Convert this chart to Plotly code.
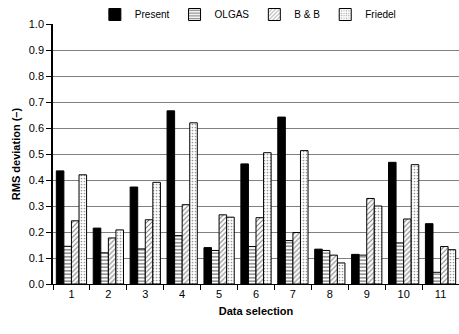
import plotly.graph_objects as go

categories = ["1", "2", "3", "4", "5", "6", "7", "8", "9", "10", "11"]
present = [0.435, 0.215, 0.373, 0.666, 0.140, 0.462, 0.642, 0.134, 0.114, 0.468, 0.232]
olgas = [0.145, 0.120, 0.135, 0.186, 0.129, 0.144, 0.167, 0.129, 0.111, 0.158, 0.045]
bb = [0.243, 0.177, 0.247, 0.305, 0.266, 0.255, 0.198, 0.111, 0.329, 0.250, 0.144]
friedel = [0.420, 0.208, 0.391, 0.620, 0.257, 0.505, 0.513, 0.081, 0.300, 0.459, 0.132]

font = "Liberation Sans, Arial, sans-serif"

fig = go.Figure()
fig.add_trace(go.Bar(x=categories, y=present, name="Present",
                     marker=dict(color="black", line=dict(color="black", width=1))))
fig.add_trace(go.Bar(x=categories, y=olgas, name="OLGAS",
                     marker=dict(color="white", line=dict(color="black", width=1),
                                 pattern=dict(shape="-", fgcolor="black", bgcolor="white", size=3.5, solidity=0.4))))
fig.add_trace(go.Bar(x=categories, y=bb, name="B & B",
                     marker=dict(color="white", line=dict(color="black", width=1),
                                 pattern=dict(shape="/", fgcolor="black", bgcolor="white", size=3.5, solidity=0.3))))
fig.add_trace(go.Bar(x=categories, y=friedel, name="Friedel",
                     marker=dict(color="white", line=dict(color="black", width=1),
                                 pattern=dict(shape=".", fgcolor="#333333", bgcolor="white", size=3, solidity=0.25))))

fig.update_layout(
    width=459, height=334,
    margin=dict(l=53, r=0, t=24, b=50, autoexpand=False),
    paper_bgcolor="white", plot_bgcolor="white",
    font=dict(family=font, size=11, color="black"),
    barmode="group", bargap=0.18, bargroupgap=0.0,
    legend=dict(orientation="h", xref="container", yref="container",
                x=0.54, xanchor="center", y=1.0, yanchor="top",
                font=dict(size=10), itemwidth=30, traceorder="normal",
                bgcolor="rgba(0,0,0,0)"),
    showlegend=True,
)
fig.update_xaxes(
    type="category", tickson="boundaries", ticks="outside", ticklen=5, tickcolor="black",
    showline=True, linecolor="black", linewidth=1, showgrid=False,
    title=dict(text="<b>Data selection</b>", font=dict(size=11), standoff=8),
    tickfont=dict(size=11),
)
fig.update_yaxes(
    range=[0, 1.0], dtick=0.1, tickformat=".1f", ticks="outside", ticklen=5, tickcolor="black",
    showline=True, linecolor="black", linewidth=1.5,
    showgrid=True, gridcolor="#808080", gridwidth=1,
    title=dict(text="<b>RMS deviation (–)</b>", font=dict(size=11), standoff=6),
    tickfont=dict(size=11), zeroline=False,
)

fig.write_html("out.html", config={"displayModeBar": False},
               post_script="document.body.style.margin='0';")
